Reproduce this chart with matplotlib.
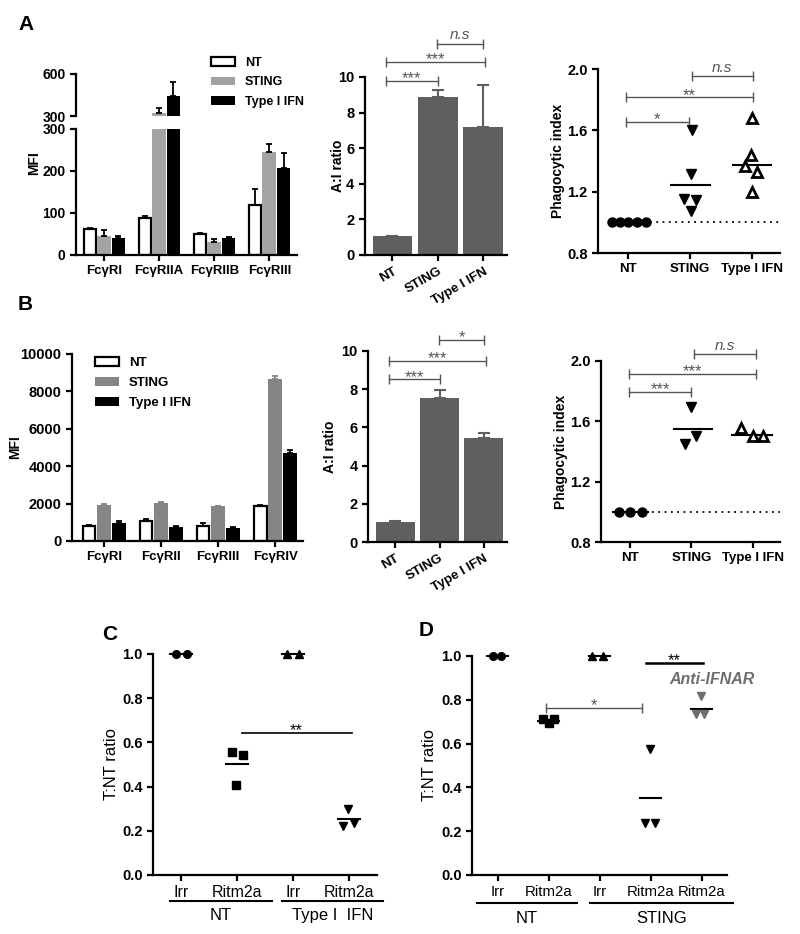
import numpy as np
import matplotlib
matplotlib.use("Agg")
import matplotlib.pyplot as plt
from matplotlib.patches import Patch

plt.rcParams["font.family"] = ["Liberation Sans", "DejaVu Sans"]
plt.rcParams["axes.linewidth"] = 1.6
plt.rcParams["xtick.major.width"] = 1.6
plt.rcParams["ytick.major.width"] = 1.6
plt.rcParams["xtick.major.size"] = 4
plt.rcParams["ytick.major.size"] = 4

# ---------------- data ----------------
# Panel A, MFI of Fc gamma receptors (human)
recA = ["FcγRI", "FcγRIIA", "FcγRIIB", "FcγRIII"]
mfiA_nt = [62, 88, 50, 120]
mfiA_nt_err = [3, 4, 3, 36]
mfiA_sting = [46, 323, 32, 246]
mfiA_sting_err = [14, 32, 5, 18]
mfiA_ifn = [40, 440, 40, 208]
mfiA_ifn_err = [6, 100, 3, 35]

# Panel B, MFI of Fc gamma receptors (mouse)
recB = ["FcγRI", "FcγRII", "FcγRIII", "FcγRIV"]
mfiB_nt = [800, 1050, 800, 1880]
mfiB_nt_err = [80, 130, 150, 30]
mfiB_sting = [1950, 2050, 1850, 8650]
mfiB_sting_err = [30, 30, 20, 180]
mfiB_ifn = [980, 760, 720, 4720]
mfiB_ifn_err = [80, 20, 10, 130]

groups = ["NT", "STING", "Type I IFN"]
ratioA = [1.08, 8.88, 7.2]
ratioA_err = [0.0, 0.37, 2.37]
ratioB = [1.05, 7.52, 5.42]
ratioB_err = [0.05, 0.43, 0.28]

# phagocytic index, per donor
phagoA_nt = [1.0, 1.0, 1.0, 1.0, 1.0]
phagoA_sting = [1.60, 1.316, 1.154, 1.147, 1.071]
phagoA_ifn = [1.679, 1.44, 1.37, 1.327, 1.195]
phagoA_mean = [1.0, 1.245, 1.375]
phagoB_nt = [1.0, 1.0, 1.0]
phagoB_sting = [1.698, 1.50, 1.45]
phagoB_ifn = [1.559, 1.506, 1.506]
phagoB_mean = [1.0, 1.548, 1.51]

# Panel C / D, T:NT ratio
condC = ["Irr", "Ritm2a", "Irr", "Ritm2a"]
tntC = [[1.0, 1.0], [0.555, 0.541, 0.409], [1.0, 1.0], [0.299, 0.223, 0.235]]
tntC_mean = [1.0, 0.504, 1.0, 0.253]
condD = ["Irr", "Ritm2a", "Irr", "Ritm2a", "Ritm2a"]
tntD = [[1.0, 1.0], [0.71, 0.695, 0.71], [1.0, 1.0], [0.577, 0.239, 0.239],
        [0.818, 0.737, 0.733]]
tntD_mean = [1.0, 0.705, 1.0, 0.35, 0.757]

# horizontal jitter of the dots
jitA = [[-0.26, -0.12, 0.01, 0.15, 0.29], [0.03, 0.02, -0.1, 0.1, 0.02],
        [0.0, -0.02, -0.11, 0.08, 0.0]]
jitB = [[-0.18, 0.0, 0.2], [0.0, 0.08, -0.1], [-0.2, 0.0, 0.17]]
jitC = [[-0.09, 0.11], [-0.09, 0.1, -0.01], [-0.1, 0.1], [-0.01, -0.11, 0.09]]
jitD = [[-0.09, 0.07], [-0.1, 0.0, 0.1], [-0.15, 0.07], [-0.02, -0.11, 0.09],
        [-0.01, -0.11, 0.04]]

GREY = "#5f5f5f"
SIG = "#555555"
TB = dict(fontsize=9.5, fontweight="bold")
LB = dict(fontsize=10, fontweight="bold")


def bracket(ax, x1, x2, y, label, italic=False, caps=True, color=SIG, lw=1.0, fs=12):
    ax.plot([x1, x2], [y, y], color=color, lw=lw, clip_on=False,
            marker="|" if caps else None, ms=7, mew=lw)
    if italic:
        ax.annotate(label, xy=((x1 + x2) / 2, y), xytext=(0, 1), textcoords="offset points",
                    ha="center", va="bottom", color=color, fontsize=11, style="italic",
                    annotation_clip=False)
    else:
        ax.annotate(label, xy=((x1 + x2) / 2, y), xytext=(0, -4), textcoords="offset points",
                    ha="center", va="bottom", color=color, fontsize=fs,
                    annotation_clip=False)


def style(ax, ysize=10.5):
    ax.spines["top"].set_visible(False)
    ax.spines["right"].set_visible(False)
    for t in ax.get_yticklabels():
        t.set_fontweight("bold")
        t.set_fontsize(ysize)


fig = plt.figure(figsize=(8, 9.34), dpi=100)

# ---------------- A left (broken axis) ----------------
axL = fig.add_axes([0.095, 0.727, 0.276, 0.1349])
axU = fig.add_axes([0.095, 0.8758, 0.276, 0.045])
x = np.arange(len(recA))
for ax in (axL, axU):
    ax.bar(x - 0.26, mfiA_nt, 0.22, yerr=[[0] * 4, mfiA_nt_err], color="white",
           edgecolor="black", linewidth=1.6, capsize=2.5, error_kw=dict(lw=1.3, capthick=1.3))
    ax.bar(x, mfiA_sting, 0.25, yerr=[[0] * 4, mfiA_sting_err], color="#a3a3a5",
           capsize=2.5, error_kw=dict(lw=1.3, capthick=1.3, ecolor="black"))
    ax.bar(x + 0.26, mfiA_ifn, 0.25, yerr=[[0] * 4, mfiA_ifn_err], color="black",
           capsize=2.5, error_kw=dict(lw=1.3, capthick=1.3))
    ax.set_xlim(-0.51, 3.5)
axL.set_ylim(0, 300)
axL.set_yticks([0, 100, 200, 300])
axL.set_xticks(x)
axL.set_xticklabels(recA, **TB)
axL.set_ylabel("MFI", **LB)
axL.yaxis.set_label_coords(-0.158, 0.73)
axU.set_ylim(300, 600)
axU.set_yticks([300, 600])
axU.spines["bottom"].set_visible(False)
axU.set_xticks([])
style(axU, ysize=10)
style(axL, ysize=10)
fig.legend(handles=[Patch(facecolor="white", edgecolor="black", lw=1.6),
                    Patch(facecolor="#a3a3a5"), Patch(facecolor="black")],
           labels=["NT", "STING", "Type I IFN"], loc="upper left",
           bbox_to_anchor=(0.256, 0.946), frameon=False, handlelength=1.9,
           handleheight=0.7, labelspacing=0.62, borderpad=0, handletextpad=0.8,
           prop=dict(size=9, weight="bold"))

# ---------------- A / B middle (A:I ratio) ----------------
def ratio_panel(rect, vals, errs, brackets, labx):
    ax = fig.add_axes(rect)
    xx = np.arange(len(groups))
    ax.bar(xx, vals, 0.88, color=GREY, yerr=[[0] * 3, errs], capsize=4,
           error_kw=dict(ecolor=GREY, lw=1.5, capthick=1.5))
    ax.set_xlim(-0.61, 2.52)
    ax.set_ylim(0, 10)
    ax.set_yticks([0, 2, 4, 6, 8, 10])
    ax.set_xticks(xx)
    ax.set_xticklabels(groups, rotation=30, ha="right", rotation_mode="anchor", **TB)
    ax.set_ylabel("A:I ratio", **LB)
    ax.yaxis.set_label_coords(labx, 0.5)
    style(ax)
    for b in brackets:
        bracket(ax, *b[:4], italic=(b[3] == "n.s"))
    return ax


ratio_panel([0.456, 0.727, 0.1775, 0.1906], ratioA, ratioA_err,
            [(-0.15, 1.0, 9.8, "***"), (-0.15, 2.05, 10.84, "***"), (0.98, 2.0, 11.87, "n.s")],
            -0.141)
ratio_panel([0.46, 0.4197, 0.1738, 0.2045], ratioB, ratioB_err,
            [(-0.14, 1.0, 8.51, "***"), (-0.14, 2.04, 9.49, "***"), (0.99, 2.0, 10.58, "*")],
            -0.223)


# ---------------- A / B right (phagocytic index) ----------------
def phago_panel(rect, pts, jit, means, mean_span, brackets, xlim, labx):
    ax = fig.add_axes(rect)
    ax.plot([0.05, xlim[1]], [1.0, 1.0], color="black", ls=(0, (1, 2.5)), lw=1.3)
    ax.plot(np.array(jit[0]), pts[0], "o", color="black", ms=6.5, zorder=3)
    ax.plot(1 + np.array(jit[1]), pts[1], "v", color="black", ms=7, zorder=3)
    ax.plot(2 + np.array(jit[2]), pts[2], "^", mfc="white", mec="black", mew=2.0,
            ms=7.5, zorder=3)
    for i, m in enumerate(means):
        ax.plot([i + mean_span[i][0], i + mean_span[i][1]], [m, m], color="black", lw=1.5)
    ax.set_xlim(*xlim)
    ax.set_ylim(0.8, 2.0)
    ax.set_yticks([0.8, 1.2, 1.6, 2.0])
    ax.set_yticklabels(["0.8", "1.2", "1.6", "2.0"])
    ax.set_xticks(range(3))
    ax.set_xticklabels(groups, **TB)
    ax.set_ylabel("Phagocytic index", **LB)
    ax.yaxis.set_label_coords(labx, 0.5)
    style(ax)
    for b in brackets:
        bracket(ax, *b[:4], italic=(b[3] == "n.s"))
    return ax


phago_panel([0.7475, 0.7291, 0.2275, 0.197], [phagoA_nt, phagoA_sting, phagoA_ifn], jitA,
            phagoA_mean, [(-0.3, 0.3), (-0.3, 0.33), (-0.3, 0.3)],
            [(-0.03, 0.98, 1.657, "*"), (-0.03, 2.01, 1.816, "**"), (1.03, 2.01, 1.954, "n.s")],
            (-0.48, 2.45), -0.181)
phago_panel([0.7513, 0.4197, 0.2238, 0.1938], [phagoB_nt, phagoB_sting, phagoB_ifn], jitB,
            phagoB_mean, [(-0.28, 0.3), (-0.28, 0.33), (-0.34, 0.31)],
            [(-0.01, 1.0, 1.797, "***"), (-0.01, 2.05, 1.914, "***"), (1.04, 2.05, 2.044, "n.s")],
            (-0.47, 2.44), -0.184)

# ---------------- B left ----------------
axB = fig.add_axes([0.09, 0.4208, 0.2888, 0.2002])
x = np.arange(len(recB))
axB.bar(x - 0.26, mfiB_nt, 0.22, yerr=[[0] * 4, mfiB_nt_err], color="white",
        edgecolor="black", linewidth=1.6, capsize=2.5, error_kw=dict(lw=1.3, capthick=1.3))
axB.bar(x, mfiB_sting, 0.25, yerr=[[0] * 4, mfiB_sting_err], color="#858585",
        capsize=2.5, error_kw=dict(lw=1.3, capthick=1.3, ecolor="#858585"))
axB.bar(x + 0.26, mfiB_ifn, 0.25, yerr=[[0] * 4, mfiB_ifn_err], color="black",
        capsize=2.5, error_kw=dict(lw=1.3, capthick=1.3))
axB.set_xlim(-0.56, 3.49)
axB.set_ylim(0, 10000)
axB.set_yticks(range(0, 10001, 2000))
axB.set_xticks(x)
axB.set_xticklabels(recB, **TB)
axB.set_ylabel("MFI", **LB)
axB.yaxis.set_label_coords(-0.216, 0.5)
style(axB)
axB.legend(handles=[Patch(facecolor="white", edgecolor="black", lw=1.6),
                    Patch(facecolor="#858585"), Patch(facecolor="black")],
           labels=["NT", "STING", "Type I IFN"], loc="upper left",
           bbox_to_anchor=(0.07, 1.02), frameon=False, handlelength=1.8,
           handleheight=0.7, labelspacing=0.6, borderpad=0, handletextpad=0.8,
           prop=dict(size=9.5, weight="bold"))


# ---------------- C / D ----------------
def tnt_panel(rect, conds, pts, jit, means, markers, colors, ms, labx, xsize):
    ax = fig.add_axes(rect)
    n = len(conds)
    for i in range(n):
        ax.plot(i + 0.5 + np.array(jit[i]), pts[i], markers[i], color=colors[i],
                ms=ms[i], clip_on=False, zorder=3)
        ax.plot([i + 0.3, i + 0.7], [means[i], means[i]], color="black", lw=1.5,
                clip_on=False)
    ax.set_xlim(0, n)
    ax.set_ylim(0, 1.0)
    ax.set_yticks([0.0, 0.2, 0.4, 0.6, 0.8, 1.0])
    ax.set_yticklabels(["0.0", "0.2", "0.4", "0.6", "0.8", "1.0"])
    ax.set_xticks(np.arange(n) + 0.5)
    ax.set_xticklabels(conds, fontsize=xsize)
    ax.set_ylabel("T:NT ratio", fontsize=12)
    ax.yaxis.set_label_coords(labx, 0.5)
    style(ax, ysize=10.5)
    return ax


def group_line(ax, x1, x2, label, yl=-0.125, yt=-0.19):
    tr = ax.get_xaxis_transform()
    ax.plot([x1, x2], [yl, yl], color="black", lw=1.5, transform=tr, clip_on=False)
    ax.text((x1 + x2) / 2, yt, label, transform=tr, ha="center", va="center", fontsize=12)


axC = tnt_panel([0.1913, 0.0632, 0.28, 0.2366], condC, tntC, jitC, tntC_mean,
                ["o", "s", "^", "v"], ["black"] * 4, [5.5, 5.5, 5.5, 5.5], -0.152, 11.5)
bracket(axC, 1.58, 3.55, 0.643, "**", caps=False, color="black", lw=1.2)
group_line(axC, 0.30, 2.12, "NT", yl=-0.12, yt=-0.185)
group_line(axC, 2.30, 4.10, "Type I  IFN", yl=-0.12, yt=-0.185)

axD = tnt_panel([0.59, 0.0632, 0.3188, 0.2345], condD, tntD, jitD, tntD_mean,
                ["o", "s", "^", "v", "v"], ["black"] * 4 + ["#6e6e6e"], [5.5] * 5, -0.137,
                10.8)
bracket(axD, 1.45, 3.33, 0.764, "*", caps=True, color=SIG, lw=1.0)
bracket(axD, 3.41, 4.52, 0.97, "**", caps=False, color="black", lw=1.8)
axD.text(4.7, 0.894, "Anti-IFNAR", ha="center", va="center", color="#6e6e6e",
         fontsize=11.5, fontweight="bold", style="italic")
group_line(axD, 0.10, 2.06, "NT", yl=-0.13, yt=-0.2)
group_line(axD, 2.31, 5.12, "STING", yl=-0.13, yt=-0.2)

# panel letters
for lab, px, py in [("A", 26, 25), ("B", 25, 305), ("C", 110, 635), ("D", 426, 630)]:
    fig.text(px / 800, 1 - py / 934, lab, fontsize=15, fontweight="bold",
             ha="center", va="center")

fig.savefig("out.png", dpi=100)
